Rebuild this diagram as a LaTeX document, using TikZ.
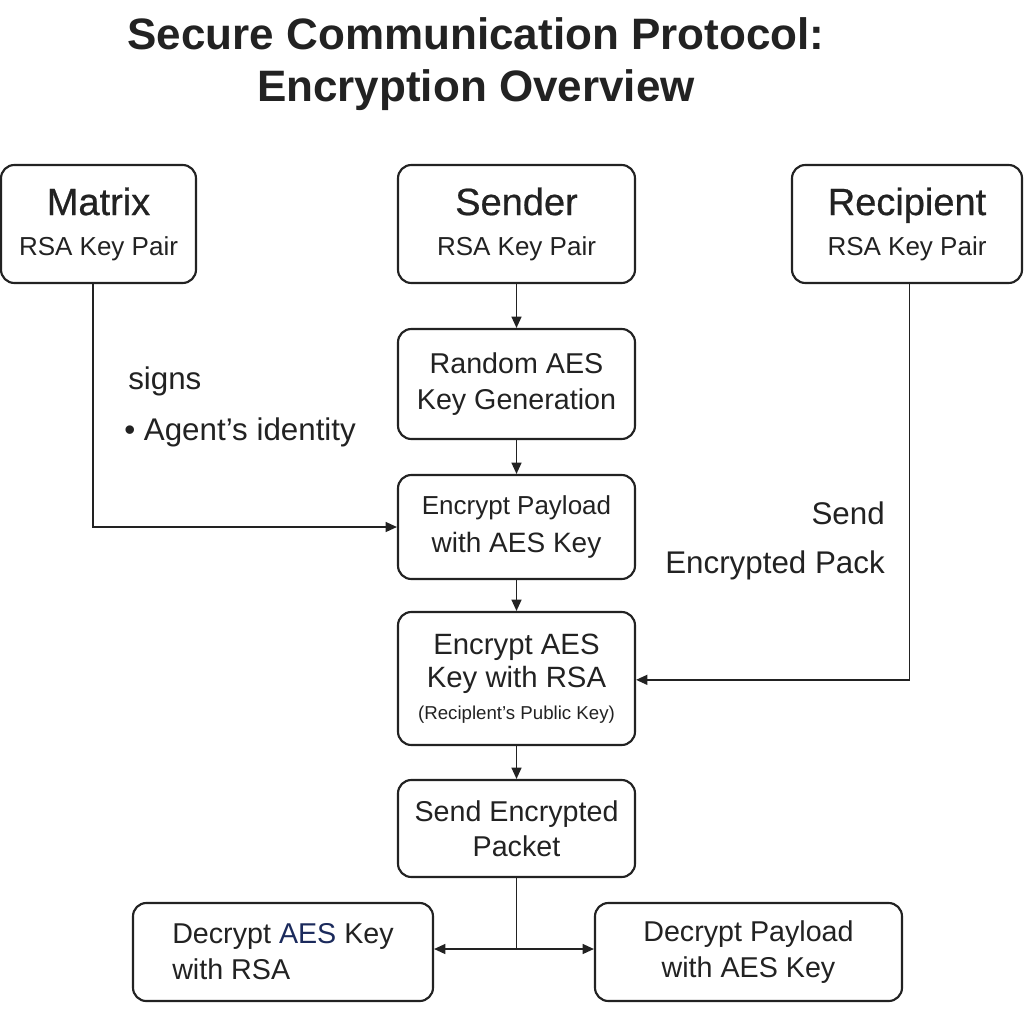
\documentclass[tikz,border=0pt]{standalone}
\usepackage{fontspec}
\setmainfont{Liberation Sans}
\usetikzlibrary{arrows.meta}
\definecolor{ink}{HTML}{222222}
\definecolor{navy}{HTML}{1B2A5C}
\newcommand{\headfont}{\fontsize{28.5}{30}\selectfont\addfontfeature{FakeBold=0.6}}
\begin{document}
\begin{tikzpicture}[x=0.75pt,y=-0.75pt,
  box/.style={draw=ink, line width=1.6pt, rounded corners=10pt, align=center, text=ink, inner sep=0pt, fill=white},
  conn/.style={draw=ink, line width=1.1pt},
  arr/.style={conn, -{Triangle[length=8.5pt,width=7.5pt]}},
  lbl/.style={text=ink, inner sep=0pt, font=\fontsize{23.5}{28}\selectfont}]
\useasboundingbox[fill=white] (0,0) rectangle (1024,1024);

\node[text=ink, align=center, inner sep=0pt, font=\bfseries\fontsize{33}{39}\selectfont] (title) at (476,64) {Secure Communication Protocol:\\Encryption Overview};

\node[box, minimum width=146.25pt, minimum height=88.5pt, font=\fontsize{19.5}{30}\selectfont] (matrix) at (98.5,224) {{\headfont Matrix}\\RSA Key Pair};
\node[box, minimum width=177.75pt, minimum height=88.5pt, font=\fontsize{19.5}{30}\selectfont] (sender) at (516.5,224) {{\headfont Sender}\\RSA Key Pair};
\node[box, minimum width=172.5pt, minimum height=88.5pt, font=\fontsize{19.5}{30}\selectfont] (recip) at (907,224) {{\headfont Recipient}\\RSA Key Pair};

\node[box, minimum width=177.75pt, minimum height=82.5pt, font=\fontsize{21.5}{27}\selectfont] (random) at (516.5,384) {Random AES\\Key Generation};
\node[box, minimum width=177.75pt, minimum height=78pt, font=\fontsize{21}{28}\selectfont] (encpay) at (516.5,527) {{\fontsize{19.5}{28}\selectfont Encrypt Payload}\\with AES Key};
\node[box, minimum width=177.75pt, minimum height=99.75pt, font=\fontsize{22}{25}\selectfont] (encaes) at (516.5,678.5) {Encrypt AES\\Key with RSA\\[-1pt]{\fontsize{14}{18}\selectfont (Reciplent’s Public Key)}};
\node[box, minimum width=177.75pt, minimum height=72.75pt, font=\fontsize{21.5}{26}\selectfont] (send) at (516.5,828.5) {Send Encrypted\\Packet};

\node[box, minimum width=225pt, minimum height=73.5pt, align=left, font=\fontsize{21.5}{27}\selectfont] (decaes) at (283,952) {Decrypt {\color{navy}AES} Key\\with RSA};
\node[box, minimum width=230.25pt, minimum height=73.5pt, font=\fontsize{21.5}{27}\selectfont] (decpay) at (748.5,952) {Decrypt Payload\\with AES Key};

\node[lbl, anchor=base west] (signs) at (128,389) {signs};
\node[lbl, anchor=base west] (ident) at (124,440) {• Agent’s identity};
\node[lbl, anchor=base east] (sendl) at (885,524) {Send};
\node[lbl, anchor=base east] (encl) at (885,573) {Encrypted Pack};

\draw[arr] (sender) -- (random);
\draw[arr] (random) -- (encpay);
\draw[arr] (encpay) -- (encaes);
\draw[arr] (encaes) -- (send);
\draw[arr] ([xshift=-4pt]matrix.south) |- (encpay.west);
\draw[arr] ([xshift=2pt]recip.south) |- ([yshift=-1pt]encaes.east);
\coordinate (split) at (516.5,949);
\draw[conn] (send) -- (split);
\draw[arr] (split) -- (decaes.east |- split);
\draw[arr] (split) -- (decpay.west |- split);
\end{tikzpicture}
\end{document}
